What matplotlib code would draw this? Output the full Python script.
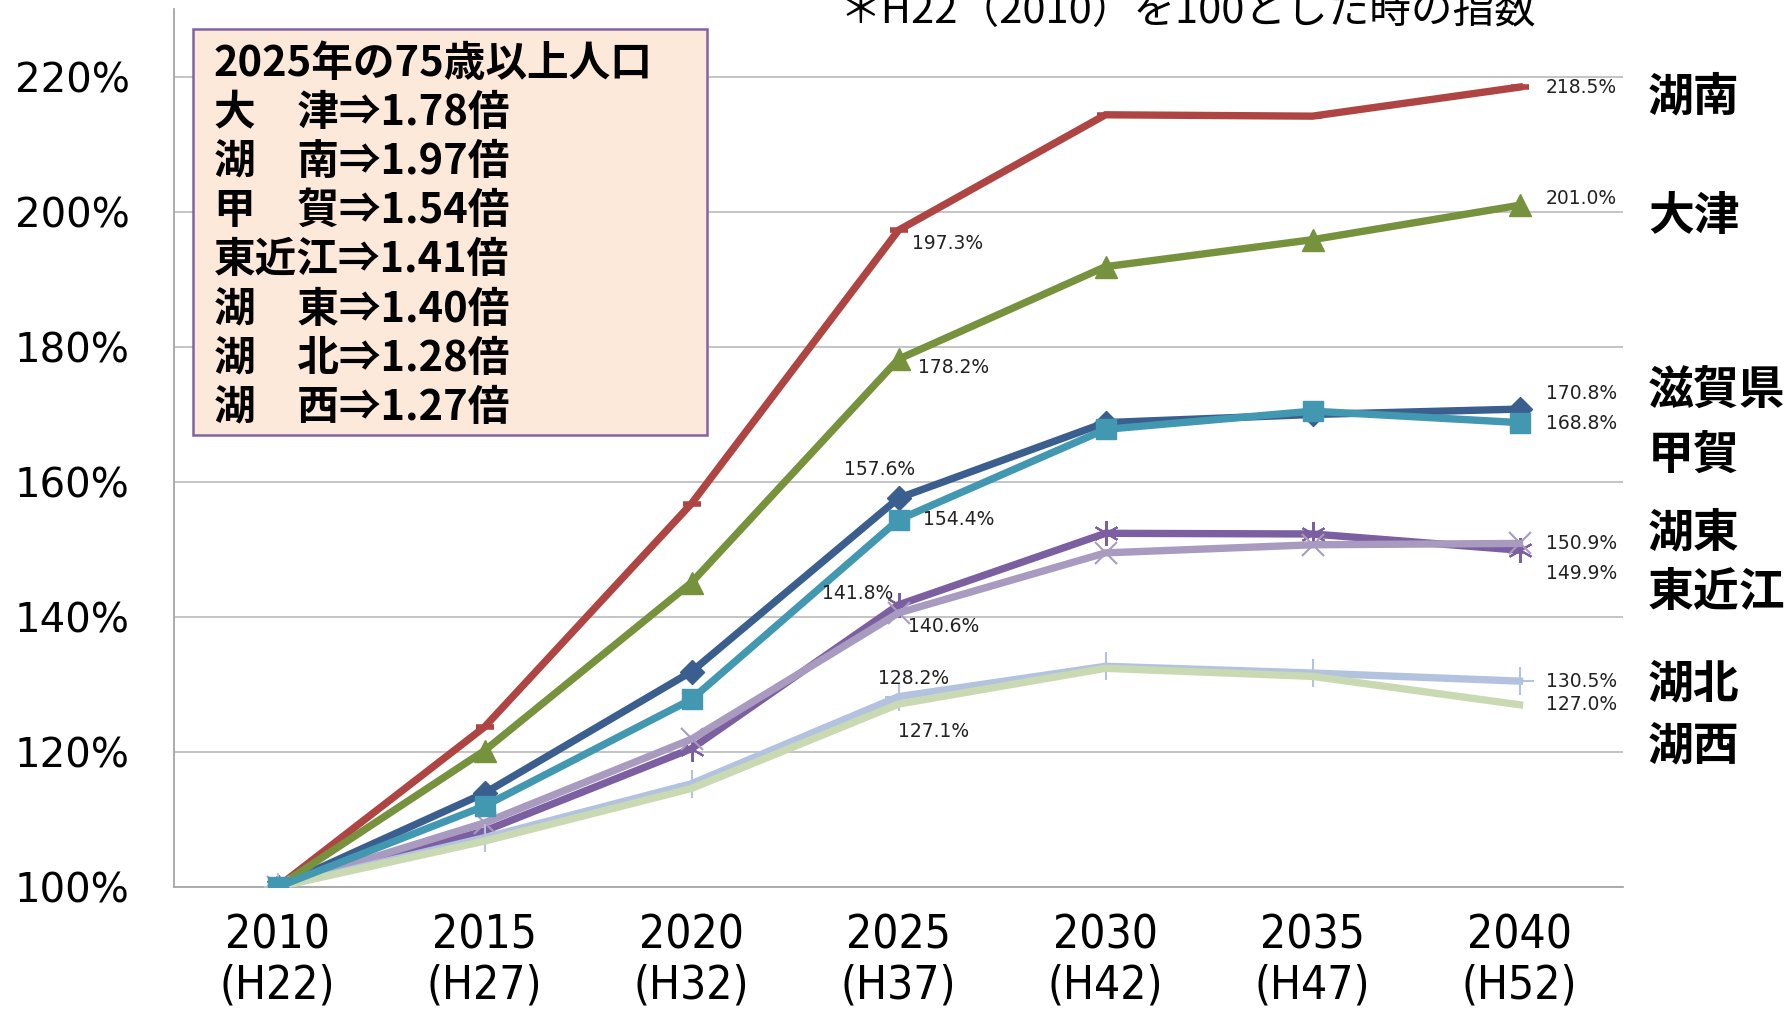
import numpy as np
import matplotlib.pyplot as plt
from matplotlib.patches import Rectangle

# x categories
years = ['2010\n(H22)', '2015\n(H27)', '2020\n(H32)', '2025\n(H37)',
         '2030\n(H42)', '2035\n(H47)', '2040\n(H52)']

# index values (H22 = 100)
konan = [100, 123.7, 156.8, 197.3, 214.4, 214.2, 218.5]
otsu = [100, 120.2, 145.1, 178.2, 191.9, 195.9, 201.0]
shiga = [100, 113.9, 131.9, 157.6, 168.8, 170.0, 170.8]
koka = [100, 112.0, 127.8, 154.4, 167.8, 170.5, 168.8]
higashiomi = [100, 108.3, 120.5, 141.8, 152.4, 152.3, 149.9]
koto = [100, 109.5, 121.9, 140.6, 149.5, 150.7, 150.9]
kohoku = [100, 107.3, 115.3, 128.2, 132.7, 131.7, 130.5]
kosei = [100, 106.8, 114.6, 127.1, 132.4, 131.2, 127.0]

yticks = [100, 120, 140, 160, 180, 200, 220]

region_names = ['湖南', '大津', '滋賀県', '甲賀', '湖東', '東近江', '湖北', '湖西']

box_lines = ['2025年の75歳以上人口',
             '大　津⇒1.78倍',
             '湖　南⇒1.97倍',
             '甲　賀⇒1.54倍',
             '東近江⇒1.41倍',
             '湖　東⇒1.40倍',
             '湖　北⇒1.28倍',
             '湖　西⇒1.27倍']

note = '＊H22（2010）を100とした時の指数'

CJK = ['Noto Sans CJK JP', 'DejaVu Sans']

W, H = 1792, 1013
fig = plt.figure(figsize=(W / 100, H / 100), dpi=100)
ax = fig.add_axes([174 / W, 1 - 887 / H, (1623 - 174) / W, 877.5 / H])

x = np.arange(len(years))

# series: data, colour, marker, marker size, marker edge width, zorder,
# label offsets (px) at 2025 and at 2040
series = [
    (shiga, '#3A5E8E', 'D', 12, 1, 3, (-19, 29, 'center'), (26, 16)),
    (konan, '#AF4542', '_', 13, 4, 3, (13, -13, 'left'), (26, 0)),
    (otsu, '#76923C', '^', 16, 1, 3, (19, -8, 'left'), (26, 7)),
    (higashiomi, '#7B5FA0', (6, 2, 0), 18, 1.5, 3, (-5, 11, 'right'), (26, -23)),
    (koto, '#A89BBF', 'x', 16, 1.5, 3, (9, -14, 'left'), (26, 0)),
    (kohoku, '#B3C3DF', '+', 20, 1.5, 3, (15, 18, 'center'), (26, 0)),
    (kosei, '#C9DAB2', None, 0, 0, 3, (35, -27, 'center'), (26, 0)),
    (koka, '#4198B0', 's', 15, 1, 3.5, (24, 0, 'left'), (26, -1)),
]

for vals, col, mk, ms, mew, z, lab25, lab40 in series:
    ax.plot(x, vals, color=col, lw=5.3, marker=mk, ms=ms, mew=mew,
            mec=col, mfc=col, solid_joinstyle='miter', zorder=z)
    dx, dy, ha = lab25
    ax.annotate(f'{vals[3]:.1f}%', (x[3], vals[3]), xytext=(dx, dy),
                textcoords='offset pixels', ha=ha, va='center',
                fontsize=13.5, color='#222222', zorder=4)
    dx, dy = lab40
    ax.annotate(f'{vals[6]:.1f}%', (x[6], vals[6]), xytext=(dx, dy),
                textcoords='offset pixels', ha='left', va='center',
                fontsize=13.5, color='#222222', zorder=4, annotation_clip=False)

ax.set_xlim(-0.5, 6.5)
ax.set_ylim(100, 230)
ax.set_xticks(x)
ax.set_xticklabels(years, fontsize=33, family='DejaVu Sans',
                   fontstretch='condensed', linespacing=1.15)
ax.set_yticks(yticks)
ax.set_yticklabels([f'{t}%' for t in yticks], fontsize=29)
ax.tick_params(axis='x', length=0, pad=19)
ax.tick_params(axis='y', length=0, pad=32)
ax.grid(axis='y', color='#BFBFBF', lw=1.3)
ax.set_axisbelow(True)
for s in ['top', 'right']:
    ax.spines[s].set_visible(False)
for s in ['left', 'bottom']:
    ax.spines[s].set_color('#A6A6A6')
    ax.spines[s].set_linewidth(1.3)

# info box
box = Rectangle((193 / W, 1 - 435 / H), (707 - 193) / W, (435 - 29) / H,
                transform=fig.transFigure, facecolor='#FDE9DA',
                edgecolor='#8064A2', lw=1.8, zorder=5)
fig.patches.append(box)
for i, line in enumerate(box_lines):
    fig.text(214 / W, 1 - (64 + 49.1 * i) / H, line, family=CJK,
             fontsize=30, fontweight='bold', va='center', ha='left', zorder=6)

# region names on the right
name_y = [97, 217, 392, 457, 533, 593, 684, 746]
for name, yy in zip(region_names, name_y):
    fig.text(1648 / W, 1 - yy / H, name, family=CJK, fontsize=33,
             fontweight='bold', va='center', ha='left')

fig.text(1188 / W, 1 - 23 / H, note, family=CJK, fontsize=30,
         ha='center', va='baseline')

fig.savefig('out.png', dpi=100)
